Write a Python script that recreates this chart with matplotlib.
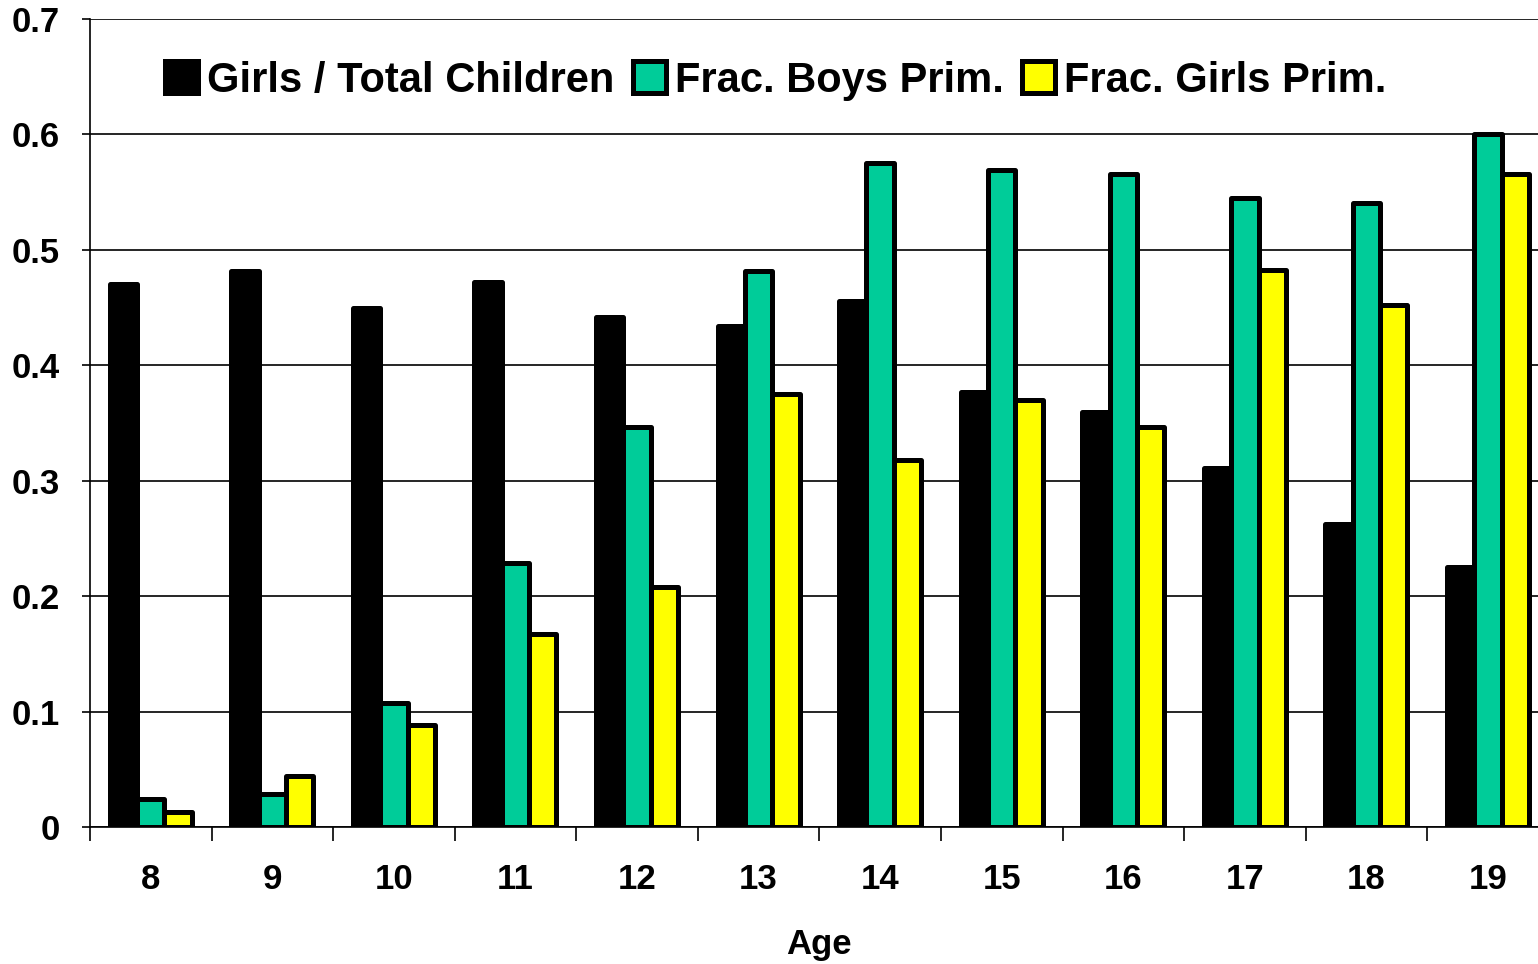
import numpy as np
import matplotlib.pyplot as plt

plt.rcParams['font.family'] = ['Liberation Sans', 'DejaVu Sans']
plt.rcParams['font.weight'] = 'bold'

ages = [8, 9, 10, 11, 12, 13, 14, 15, 16, 17, 18, 19]
girls_total = [0.470, 0.481, 0.449, 0.472, 0.442, 0.434, 0.455, 0.377, 0.359, 0.311, 0.262, 0.225]
boys_prim = [0.024, 0.029, 0.107, 0.229, 0.346, 0.481, 0.575, 0.569, 0.565, 0.545, 0.540, 0.600]
girls_prim = [0.013, 0.044, 0.088, 0.167, 0.208, 0.375, 0.318, 0.370, 0.346, 0.482, 0.452, 0.565]

labels = ['Girls / Total Children', 'Frac. Boys Prim.', 'Frac. Girls Prim.']
colors = ['#000000', '#00CC99', '#FFFF00']

fig = plt.figure(figsize=(15.38, 9.64), dpi=100)
ax = fig.add_axes([0.0585, 0.1421, 0.9485, 0.8387])

x = np.arange(len(ages))
w = 0.225
series = [girls_total, boys_prim, girls_prim]
for i, (vals, c, lab) in enumerate(zip(series, colors, labels)):
    bars = ax.bar(x + (i - 1) * w, vals, w, color=c, edgecolor='black',
                  linewidth=3.6, label=lab, zorder=3)
    for b in bars:
        b.set_joinstyle('round')

ax.set_xlim(-0.5, len(ages) - 0.5)
ax.set_ylim(0, 0.7)
ax.set_yticks(np.arange(0, 0.71, 0.1))
ax.set_yticklabels(['0', '0.1', '0.2', '0.3', '0.4', '0.5', '0.6', '0.7'])
ax.yaxis.grid(True, color='black', linewidth=1.2, zorder=0)
ax.set_axisbelow(True)

# category separators as ticks, labels centred between them
ax.set_xticks(np.arange(len(ages) + 1) - 0.5)
ax.set_xticklabels([])
ax.set_xticks(x, minor=True)
ax.set_xticklabels([str(a) for a in ages], minor=True)
ax.tick_params(axis='x', which='major', length=10, width=1.2, direction='out')
ax.tick_params(axis='x', which='minor', length=0, pad=26, labelsize=25)
ax.tick_params(axis='y', length=6, width=1.2, labelsize=25, pad=16)

for s in ['top', 'right']:
    ax.spines[s].set_visible(False)
for s in ['left', 'bottom']:
    ax.spines[s].set_linewidth(1.2)

ax.set_xlabel('Age', fontsize=25, fontweight='bold', labelpad=23)

ax.legend(loc='center', bbox_to_anchor=(0.47, 0.923), ncol=3, frameon=False,
          fontsize=30, handlelength=0.8, handleheight=0.8, handletextpad=0.2,
          columnspacing=0.45)

fig.savefig('out.png', dpi=100)
